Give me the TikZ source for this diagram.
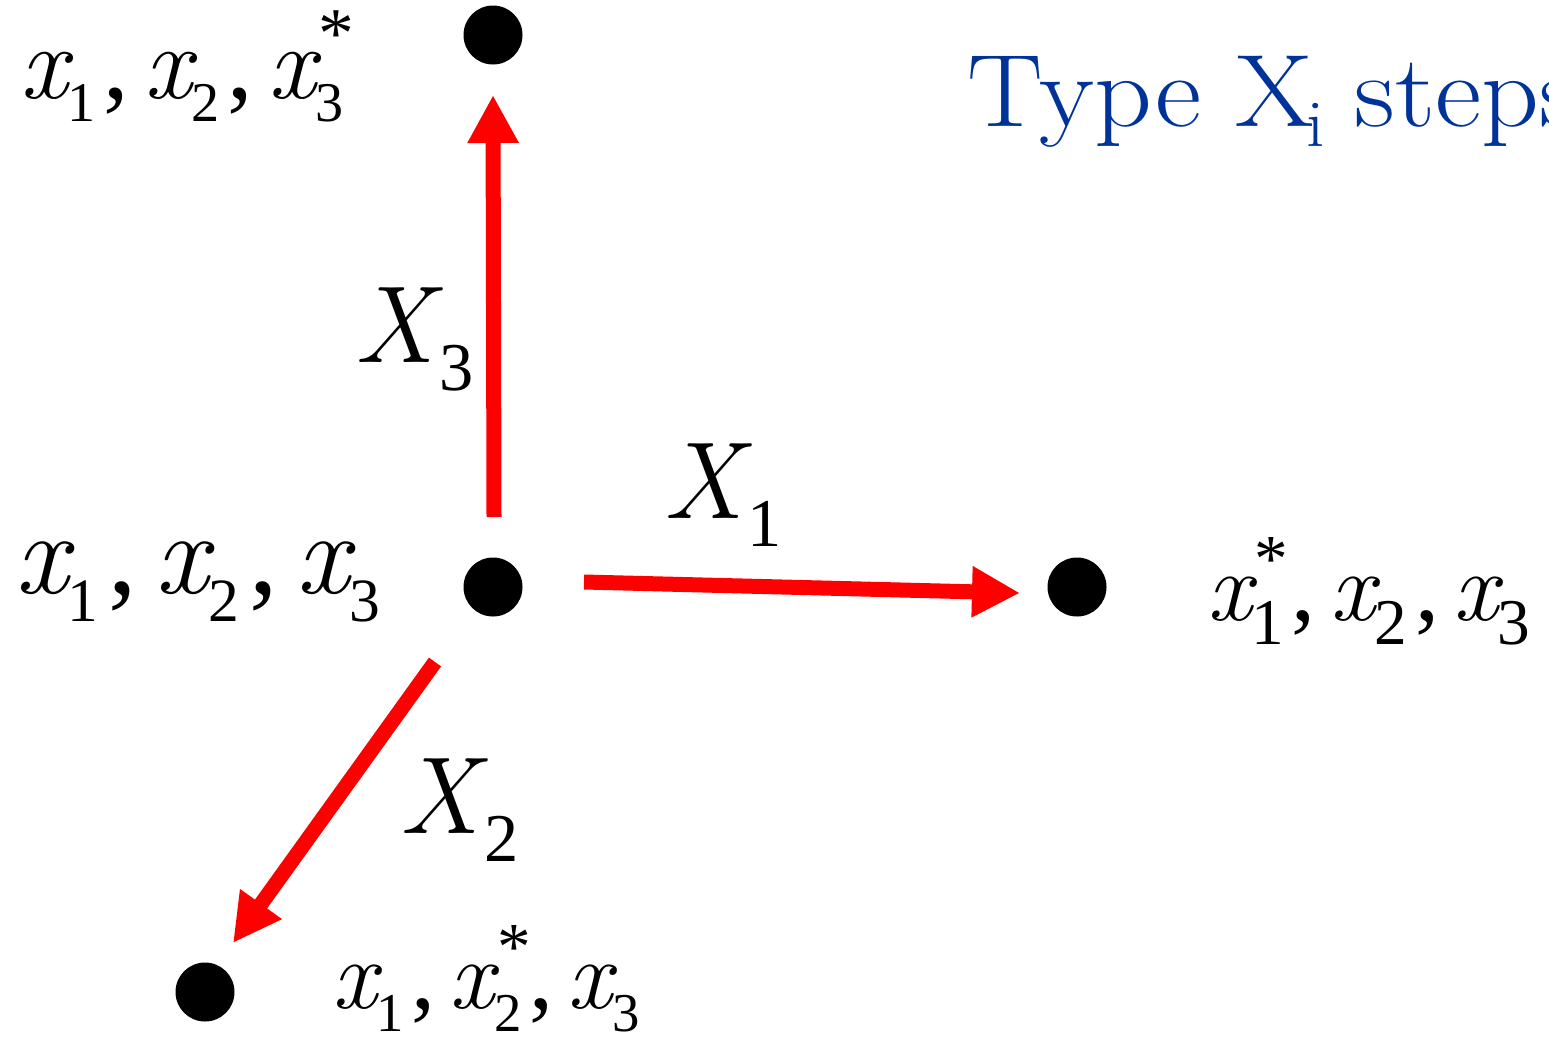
\documentclass[tikz,border=0pt]{standalone}
\usepackage{fontspec}
\usepackage{graphicx}
\usetikzlibrary{arrows.meta}
\newfontfamily\tnr{Liberation Serif}
\definecolor{stepblue}{RGB}{0,51,153}
\newcommand\subsc{0.55}
\newcommand\subd{0.235em}
\newcommand\supsc{0.7}
\newcommand\supr{0.40em}
\newcommand\supk{0.03em}
\newcommand\xsc{1.03}
\newcommand\itx{\scalebox{\xsc}{\normalfont\itshape x}}
\newcommand\itX{\scalebox{0.96}{\normalfont\itshape X}}
\newcommand\xs[2]{\itx\rlap{\kern\supk\raisebox{\supr}{\scalebox{\supsc}{#2}}}\raisebox{-\subd}{\scalebox{\subsc}{#1}}}
\newcommand\sepc{\kern0.08em,\kern0.15em}
\tikzset{
  dot/.style={circle,fill=black,inner sep=0pt,minimum size=59pt},
  arr/.style={draw=red,line width=15pt,-{Triangle[length=48pt,width=48pt]}},
  lab/.style={anchor=base west,inner sep=0pt,outer sep=0pt},
}
\begin{document}
\begin{tikzpicture}[x=1pt,y=-1pt]
\useasboundingbox (0,0) rectangle (1549,1037);
\clip (0,0) rectangle (1549,1037);
\node[dot] (top) at (493,35) {};
\node[dot] (mid) at (493,587) {};
\node[dot] (rt) at (1077,587) {};
\node[dot] (bot) at (205,992) {};
\draw[arr] ([shift={(1,-70)}]mid.center) -- ([shift={(0,60)}]top.center);
\draw[arr] ([shift={(91,-5)}]mid.center) -- ([shift={(-57,6)}]rt.center);
\draw[arr] ([shift={(-58,75)}]mid.center) -- ([shift={(28,-49)}]bot.center);
\node[lab,font={\tnr\fontsize{102}{110}\selectfont}] (tl) at (20,98) {\xs{1}{}\sepc\xs{2}{}\sepc\xs{3}{*}};
\node[lab,font={\tnr\fontsize{114}{120}\selectfont\renewcommand\subsc{0.54}\renewcommand\subd{0.25em}\renewcommand\sepc{\kern0.09em,\kern0.16em}}] (ml) at (15,593) {\xs{1}{}\sepc\xs{2}{}\sepc\xs{3}{}};
\node[lab,font={\tnr\fontsize{96}{100}\selectfont\renewcommand\subsc{0.68}\renewcommand\subd{0.26em}}] (rl) at (1207,620) {\xs{1}{*}\sepc\xs{2}{}\sepc\xs{3}{}};
\node[lab,font={\tnr\fontsize{96}{100}\selectfont\renewcommand\subsc{0.57}\renewcommand\subd{0.24em}}] (bl) at (332,1008) {\xs{1}{}\sepc\xs{2}{*}\sepc\xs{3}{}};
\node[lab,font={\tnr\fontsize{114}{120}\selectfont}] (l3) at (354,362) {\itX\kern0.05em\raisebox{-0.254em}{\scalebox{0.6}{3}}};
\node[lab,font={\tnr\fontsize{114}{120}\selectfont}] (l1) at (663,518) {\itX\kern0.04em\raisebox{-0.254em}{\scalebox{0.6}{1}}};
\node[lab,font={\tnr\fontsize{114}{120}\selectfont}] (l2) at (399,833) {\itX\kern0.05em\raisebox{-0.254em}{\scalebox{0.6}{2}}};
\node[lab,font={\fontsize{103}{110}\selectfont},text=stepblue] (ttl) at (967,126) {\scalebox{1.1}[1]{Type X\kern-0.07em\raisebox{-0.2em}{\scalebox{0.65}{i}}\kern-0.04em\ steps}};
\end{tikzpicture}
\end{document}
